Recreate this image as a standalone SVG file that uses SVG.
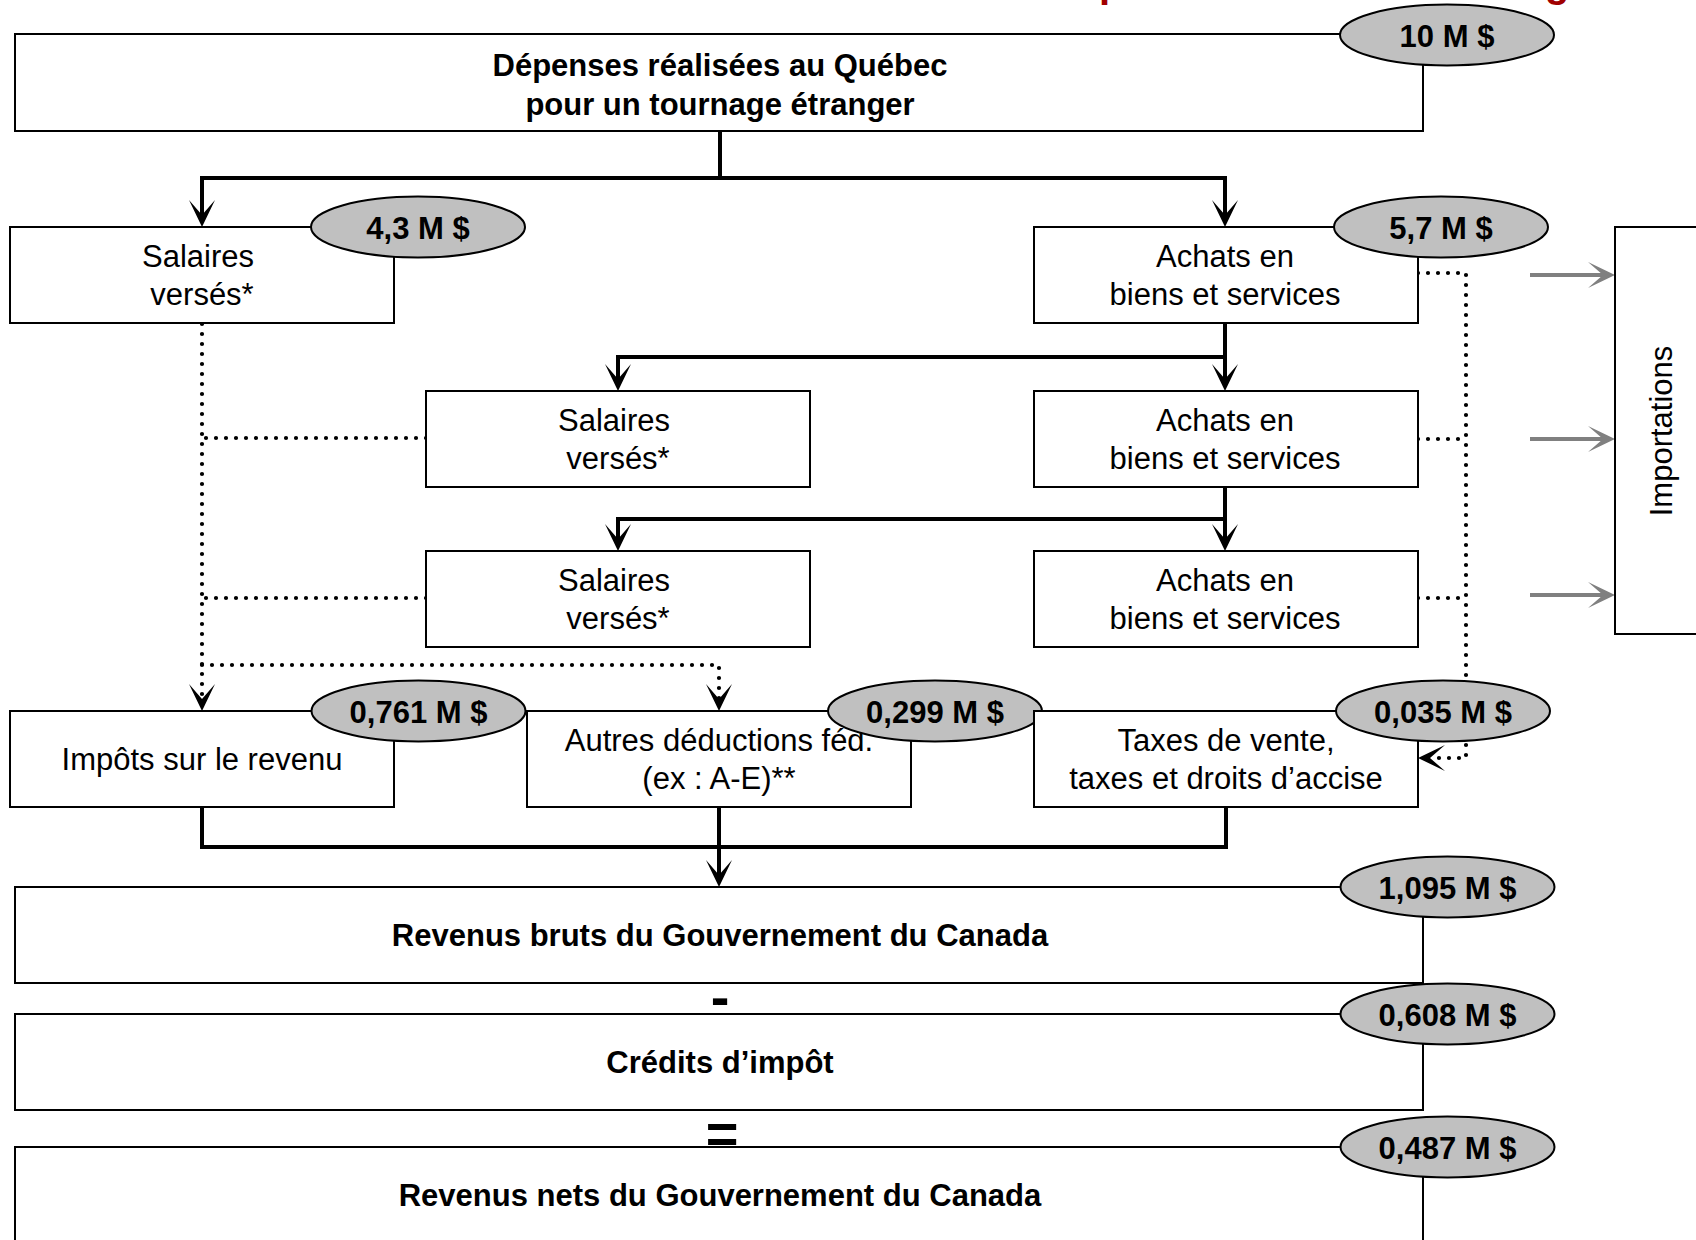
<svg xmlns="http://www.w3.org/2000/svg" width="1696" height="1240" viewBox="0 0 1696 1240">
<style>
.box{fill:#fff;stroke:#000;stroke-width:2}
.badge{fill:#c0c0c0;stroke:#000;stroke-width:2}
.t{font-family:"Liberation Sans",Arial,sans-serif;font-size:31px;text-anchor:middle;fill:#000}
.b{font-weight:bold}
.thick{fill:none;stroke:#000;stroke-width:4}
.dot{fill:none;stroke:#000;stroke-width:4.2;stroke-dasharray:0 10;stroke-linecap:round}
.gray{fill:none;stroke:#808080;stroke-width:4}
.op{font-family:"Liberation Sans",Arial,sans-serif;font-size:56px;font-weight:bold;text-anchor:middle;fill:#000}
.title{font-family:"Liberation Sans",Arial,sans-serif;font-size:40px;font-weight:bold;fill:#a00000}
</style>
<defs>
<marker id="ah" markerUnits="userSpaceOnUse" viewBox="-16 -14 30 28" refX="0" refY="0" markerWidth="30" markerHeight="28" orient="auto">
<path d="M12,0 L-15,-13 L0,0 L-15,13 Z" fill="#000"/>
</marker>
<marker id="ahg" markerUnits="userSpaceOnUse" viewBox="-16 -14 30 28" refX="0" refY="0" markerWidth="30" markerHeight="28" orient="auto">
<path d="M12,0 L-15,-13 L0,0 L-15,13 Z" fill="#808080"/>
</marker>
</defs>
<rect width="1696" height="1240" fill="#fff"/>

<g id="title-fragment">
<text class="title" x="1099" y="-3">p</text>
<text class="title" x="1545" y="-3">g</text>
</g>

<g id="connectors">
<path class="thick" d="M720,131 V178 H202 V215" marker-end="url(#ah)"/>
<path class="thick" d="M720,178 H1225 V215" marker-end="url(#ah)"/>
<path class="thick" d="M1225,323 V357 H618 V379" marker-end="url(#ah)"/>
<path class="thick" d="M1225,357 V379" marker-end="url(#ah)"/>
<path class="thick" d="M1225,487 V519 H618 V539" marker-end="url(#ah)"/>
<path class="thick" d="M1225,519 V539" marker-end="url(#ah)"/>
<path class="thick" d="M202,807 V847 H1226 V807"/>
<path class="thick" d="M719,807 V875" marker-end="url(#ah)"/>
<path class="dot" d="M202,324 V699" marker-end="url(#ah)"/>
<path class="dot" d="M426,438 H202"/>
<path class="dot" d="M426,598 H202"/>
<path class="dot" d="M202,665 H719 V699" marker-end="url(#ah)"/>
<path class="dot" d="M1418,273 H1466 V758 H1430" marker-end="url(#ah)"/>
<path class="dot" d="M1418,439 H1466"/>
<path class="dot" d="M1418,598 H1466"/>
<path class="gray" d="M1530,275 H1603" marker-end="url(#ahg)"/>
<path class="gray" d="M1530,439 H1603" marker-end="url(#ahg)"/>
<path class="gray" d="M1530,595 H1603" marker-end="url(#ahg)"/>
</g>

<g id="depenses">
<rect class="box" x="15" y="34" width="1408" height="97"/>
<text class="t b" x="720" y="76">Dépenses réalisées au Québec</text>
<text class="t b" x="720" y="115">pour un tournage étranger</text>
<ellipse class="badge" cx="1447" cy="35" rx="107" ry="30.5"/>
<text class="t b" x="1447" y="47">10 M $</text>
</g>

<g id="salaires1">
<rect class="box" x="10" y="227" width="384" height="96"/>
<text class="t" x="198" y="267">Salaires</text>
<text class="t" x="202" y="305">versés*</text>
<ellipse class="badge" cx="418" cy="227" rx="107" ry="30.5"/>
<text class="t b" x="418" y="239">4,3 M $</text>
</g>

<g id="achats1">
<rect class="box" x="1034" y="227" width="384" height="96"/>
<text class="t" x="1225" y="267">Achats en</text>
<text class="t" x="1225" y="305">biens et services</text>
<ellipse class="badge" cx="1441" cy="227" rx="107" ry="30.5"/>
<text class="t b" x="1441" y="239">5,7 M $</text>
</g>

<g id="salaires2">
<rect class="box" x="426" y="391" width="384" height="96"/>
<text class="t" x="614" y="431">Salaires</text>
<text class="t" x="618" y="469">versés*</text>
</g>

<g id="achats2">
<rect class="box" x="1034" y="391" width="384" height="96"/>
<text class="t" x="1225" y="431">Achats en</text>
<text class="t" x="1225" y="469">biens et services</text>
</g>

<g id="salaires3">
<rect class="box" x="426" y="551" width="384" height="96"/>
<text class="t" x="614" y="591">Salaires</text>
<text class="t" x="618" y="629">versés*</text>
</g>

<g id="achats3">
<rect class="box" x="1034" y="551" width="384" height="96"/>
<text class="t" x="1225" y="591">Achats en</text>
<text class="t" x="1225" y="629">biens et services</text>
</g>

<g id="importations">
<rect class="box" x="1615" y="227" width="120" height="407"/>
<text class="t" transform="translate(1672,431) rotate(-90)" x="0" y="0">Importations</text>
</g>

<g id="impots">
<rect class="box" x="10" y="711" width="384" height="96"/>
<text class="t" x="202" y="770">Impôts sur le revenu</text>
<ellipse class="badge" cx="418.5" cy="711" rx="107" ry="30.5"/>
<text class="t b" x="418.5" y="723">0,761 M $</text>
</g>

<g id="autres">
<rect class="box" x="527" y="711" width="384" height="96"/>
<text class="t" x="719" y="751">Autres déductions féd.</text>
<text class="t" x="719" y="789">(ex : A-E)**</text>
<ellipse class="badge" cx="935" cy="711" rx="107" ry="30.5"/>
<text class="t b" x="935" y="723">0,299 M $</text>
</g>

<g id="taxes">
<rect class="box" x="1034" y="711" width="384" height="96"/>
<text class="t" x="1226" y="751">Taxes de vente,</text>
<text class="t" x="1226" y="789">taxes et droits d’accise</text>
<ellipse class="badge" cx="1443" cy="711" rx="107" ry="30.5"/>
<text class="t b" x="1443" y="723">0,035 M $</text>
</g>

<g id="revenus-bruts">
<rect class="box" x="15" y="887" width="1408" height="96"/>
<text class="t b" x="720" y="946">Revenus bruts du Gouvernement du Canada</text>
<ellipse class="badge" cx="1447.5" cy="887" rx="107" ry="30.5"/>
<text class="t b" x="1447.5" y="899">1,095 M $</text>
</g>

<g id="operator-minus">
<text class="op" x="720" y="1016">-</text>
</g>

<g id="credits">
<rect class="box" x="15" y="1014" width="1408" height="96"/>
<text class="t b" x="720" y="1073">Crédits d’impôt</text>
<ellipse class="badge" cx="1447.5" cy="1014" rx="107" ry="30.5"/>
<text class="t b" x="1447.5" y="1026">0,608 M $</text>
</g>

<g id="operator-equals">
<text class="op" x="722" y="1153">=</text>
</g>

<g id="revenus-nets">
<rect class="box" x="15" y="1147" width="1408" height="120"/>
<text class="t b" x="720" y="1206">Revenus nets du Gouvernement du Canada</text>
<ellipse class="badge" cx="1447.5" cy="1147" rx="107" ry="30.5"/>
<text class="t b" x="1447.5" y="1159">0,487 M $</text>
</g>
</svg>
